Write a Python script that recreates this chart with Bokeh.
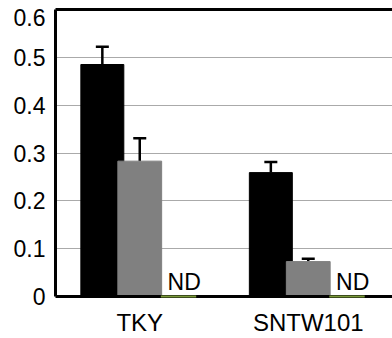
from bokeh.plotting import figure
from bokeh.models import (ColumnDataSource, FactorRange, Range1d, Whisker, TeeHead,
                          FixedTicker, LinearAxis)
from bokeh.transform import dodge
from bokeh.core.properties import value
from bokeh.embed import file_html
from bokeh.resources import INLINE

cats = ["TKY", "SNTW101"]
black_vals = [0.485, 0.259]
black_err = [0.037, 0.022]
gray_vals = [0.283, 0.073]
gray_err = [0.048, 0.006]
nd_vals = [0.0, 0.0]
nd_text = ["ND", "ND"]
y_ticks = [0, 0.1, 0.2, 0.3, 0.4, 0.5, 0.6]
y_tick_labels = ["0", "0.1", "0.2", "0.3", "0.4", "0.5", "0.6"]

src = ColumnDataSource(dict(
    cats=cats,
    black=black_vals,
    black_up=[v + e for v, e in zip(black_vals, black_err)],
    gray=gray_vals,
    gray_up=[v + e for v, e in zip(gray_vals, gray_err)],
    nd=nd_vals,
    nd_text=nd_text,
))

FONT = "Liberation Sans"
Y_MAX = max(y_ticks)

p = figure(width=392, height=338, x_range=FactorRange(*cats, range_padding=0),
           y_range=Range1d(0, Y_MAX), output_backend="svg", toolbar_location=None,
           min_border_left=55, min_border_right=0, min_border_top=9, min_border_bottom=0)
p.outline_line_color = None
p.background_fill_color = "white"
p.border_fill_color = "white"

p.vbar(x=dodge("cats", -0.222, range=p.x_range), top="black", bottom=0, width=0.255,
       source=src, fill_color="black", line_color="black")
p.vbar(x=dodge("cats", 0.0, range=p.x_range), top="gray", bottom=0, width=0.26,
       source=src, fill_color="#808080", line_color="#808080")
p.vbar(x=dodge("cats", 0.23, range=p.x_range), top="nd", bottom=0, width=0.21,
       source=src, fill_color="#7a9a3a", line_color="#7a9a3a", line_width=2, level="overlay")

for base_off, lo, up in [(-0.222, "black", "black_up"), (0.0, "gray", "gray_up")]:
    w = Whisker(base=dodge("cats", base_off, range=p.x_range), lower=lo, upper=up,
                source=src, dimension="height", line_color="black", line_width=2.5,
                upper_head=TeeHead(size=13, line_color="black", line_width=2.5),
                lower_head=None)
    p.add_layout(w)

p.text(x=dodge("cats", 0.165, range=p.x_range), y="nd", text="nd_text", source=src,
       text_font=value(FONT), text_font_size="23px", text_color="black",
       text_baseline="bottom", text_align="left", y_offset=-2)

# grid
p.xgrid.grid_line_color = None
p.ygrid.ticker = FixedTicker(ticks=y_ticks[1:-1])
p.ygrid.grid_line_color = "#aaaaaa"
p.ygrid.grid_line_width = 1

# y axis; the top label is placed just inside the frame (as in the original)
label_pos = [t if t < Y_MAX else t - 0.016 for t in y_ticks]
p.yaxis.ticker = FixedTicker(ticks=label_pos)
p.yaxis.major_label_overrides = {t: l for t, l in zip(label_pos, y_tick_labels)}
p.yaxis.major_label_text_font = FONT
p.yaxis.major_label_text_font_size = "23px"
p.yaxis.major_label_text_color = "black"
p.yaxis.axis_line_width = 3
p.yaxis.axis_line_color = "black"
p.yaxis.major_tick_line_color = None
p.yaxis.minor_tick_line_color = None
p.yaxis.major_tick_out = 0
p.yaxis.minor_tick_out = 0
p.yaxis.major_label_standoff = 10

# x axis
p.xaxis.major_label_text_font = FONT
p.xaxis.major_label_text_font_size = "24px"
p.xaxis.major_label_text_color = "black"
p.xaxis.axis_line_width = 3
p.xaxis.axis_line_color = "black"
p.xaxis.major_tick_line_color = None
p.xaxis.minor_tick_line_color = None
p.xaxis.major_tick_out = 0
p.xaxis.minor_tick_out = 0
p.xaxis.major_label_standoff = 12

# top border line
top = LinearAxis(axis_line_width=3, axis_line_color="black", major_tick_line_color=None,
                 minor_tick_line_color=None, major_tick_out=0, minor_tick_out=0,
                 major_label_standoff=0, ticker=FixedTicker(ticks=[]))
p.add_layout(top, "above")

open("out.html", "w").write(file_html(p, INLINE))
